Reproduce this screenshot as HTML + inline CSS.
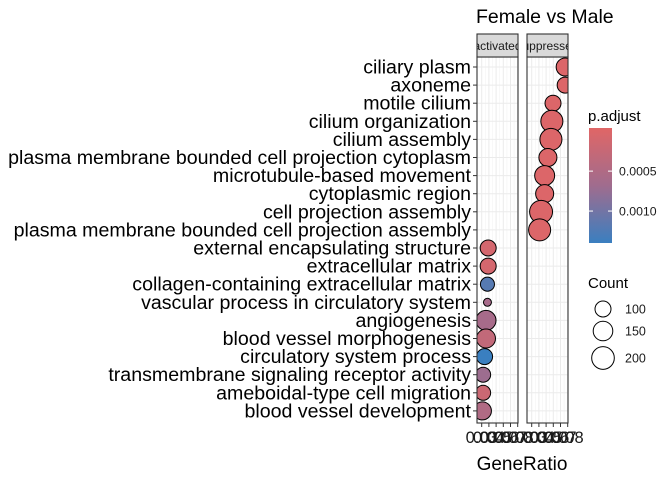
<!DOCTYPE html>
<html><head><meta charset="utf-8">
<style>
body{margin:0;background:#fff;}
svg text{font-family:"Liberation Sans",Arial,sans-serif;}
</style></head>
<body>
<svg id="c" width="672" height="480" xmlns="http://www.w3.org/2000/svg">
<defs>
<linearGradient id="grad" x1="0" y1="0" x2="0" y2="1">
<stop offset="0" stop-color="#E06666"/><stop offset="0.5" stop-color="#A06C8E"/><stop offset="1" stop-color="#3A7FC0"/>
</linearGradient>
<clipPath id="clipL"><rect x="477" y="57" width="41" height="366"/></clipPath>
<clipPath id="clipR"><rect x="527" y="57" width="41" height="366"/></clipPath>
<clipPath id="clipSL"><rect x="477" y="34" width="41" height="23"/></clipPath>
<clipPath id="clipSR"><rect x="527" y="34" width="41" height="23"/></clipPath>
</defs>
</svg>
<script>
const terms=["ciliary plasm","axoneme","motile cilium","cilium organization","cilium assembly","plasma membrane bounded cell projection cytoplasm","microtubule-based movement","cytoplasmic region","cell projection assembly","plasma membrane bounded cell projection assembly","external encapsulating structure","extracellular matrix","collagen-containing extracellular matrix","vascular process in circulatory system","angiogenesis","blood vessel morphogenesis","circulatory system process","transmembrane signaling receptor activity","ameboidal-type cell migration","blood vessel development"];
const panel=["suppressed","suppressed","suppressed","suppressed","suppressed","suppressed","suppressed","suppressed","suppressed","suppressed","activated","activated","activated","activated","activated","activated","activated","activated","activated","activated"];
const geneRatio=[0.0765,0.0765,0.0596,0.058,0.0567,0.0525,0.048,0.048,0.043,0.041,0.039,0.039,0.038,0.038,0.036,0.036,0.034,0.032,0.032,0.031];
const counts=[127,100,100,190,190,127,156,127,206,190,100,100,77,25,156,140,100,88,88,127];
const padj=[0.00001,0.00001,0.00001,0.00001,0.00001,0.00001,0.00001,0.00001,0.00001,0.00001,0.0001,0.0001,0.0012,0.0006,0.0006,0.0003,0.0014,0.0007,0.0002,0.0005];
const xTicks=[0.03,0.04,0.05,0.06,0.07,0.08];
const xTickLabels=["0.03","0.04","0.05","0.06","0.07","0.08"];
const legendCounts=[100,150,200];
const colorTicks=[0.0005,0.0010];
const colorTickLabels=["0.0005","0.0010"];

const svg=document.getElementById('c');
const NS="http://www.w3.org/2000/svg";
function mk(t,a,p){const e=document.createElementNS(NS,t);for(const k in a)e.setAttribute(k,a[k]);(p||svg).appendChild(e);return e;}
const panels={activated:{x0:477},suppressed:{x0:527}};
const PW=41,PT=57,PB=423;
function xs(v,x0){return x0+4.7+(v-0.03)*720;}
function ys(i){return 67+i*18.1;}
function rs(c){return 0.8*Math.sqrt(c);}
const pMin=-0.00004,pMax=0.0014;
function cs(p){let t=(p-pMin)/(pMax-pMin);t=Math.max(0,Math.min(1,t));
 const a=[224,102,102],m=[160,108,142],b=[58,127,192];let c;
 if(t<0.5){const u=t/0.5;c=a.map((v,k)=>Math.round(v+(m[k]-v)*u));}else{const u=(t-0.5)/0.5;c=m.map((v,k)=>Math.round(v+(b[k]-v)*u));}
 return `rgb(${c.join(',')})`;}
function cy(p){return 128+(p-pMin)/(pMax-pMin)*115;}

const title=mk('text',{x:476,y:23,'font-size':19.5,fill:'#000'});title.textContent="Female vs Male";



for(const key of ["activated","suppressed"]){
 const x0=panels[key].x0;
 const g=mk('g',{});
 
 
 mk('rect',{x:x0,y:PT,width:PW,height:PB-PT,fill:'#fff'},g);
 for(let k=0;k<xTicks.length;k++){
  const x=xs(xTicks[k],x0);
  mk('line',{x1:x,x2:x,y1:PT,y2:PB,stroke:'#ebebeb','stroke-width':1},g);
  if(k<xTicks.length-1){const xm=xs((xTicks[k]+xTicks[k+1])/2,x0);mk('line',{x1:xm,x2:xm,y1:PT,y2:PB,stroke:'#f3f3f3','stroke-width':0.6},g);}
 }
 for(let i=0;i<terms.length;i++){mk('line',{x1:x0,x2:x0+PW,y1:ys(i),y2:ys(i),stroke:'#ebebeb','stroke-width':1},g);}
 const dg=mk('g',{'clip-path':key==="activated"?'url(#clipL)':'url(#clipR)'},g);
 for(let i=0;i<terms.length;i++){if(panel[i]!==key)continue;
  const c=mk('circle',{cx:xs(geneRatio[i],x0),cy:ys(i),r:rs(counts[i]),fill:cs(padj[i]),stroke:'#000','stroke-width':1},dg);
  
  
 }
 mk('rect',{x:x0,y:PT,width:PW,height:PB-PT,fill:'none',stroke:'#333','stroke-width':1.1},g);
 const s=mk('rect',{x:x0,y:34,width:PW,height:23,fill:'#d9d9d9',stroke:'#333','stroke-width':1.1},g);
 
 
 const st=mk('text',{x:x0+PW/2,y:50,'font-size':12,'text-anchor':'middle',fill:'#1a1a1a','clip-path':key==="activated"?'url(#clipSL)':'url(#clipSR)'},g);
 st.textContent=key;
 for(let k=0;k<xTicks.length;k++){const x=xs(xTicks[k],x0);
  mk('line',{x1:x,x2:x,y1:PB,y2:PB+4,stroke:'#333'},g);
  const t=mk('text',{x:x,y:443,'font-size':16.5,'text-anchor':'middle',fill:'#1a1a1a'},g);t.textContent=xTickLabels[k];
  
  
 }
}

for(let i=0;i<terms.length;i++){
 mk('line',{x1:473,x2:477,y1:ys(i),y2:ys(i),stroke:'#333'});
 const t=mk('text',{x:471,y:ys(i)+6.5,'font-size':19.6,'text-anchor':'end',fill:'#000'});t.textContent=terms[i];
 
 
}
const xt=mk('text',{x:522,y:470,'font-size':19,'text-anchor':'middle',fill:'#000'});xt.textContent="GeneRatio";



const lt=mk('text',{x:588,y:121,'font-size':15,fill:'#000'});lt.textContent="p.adjust";


const cb=mk('rect',{x:589,y:128,width:23,height:115,fill:'url(#grad)'});


for(let k=0;k<colorTicks.length;k++){const y=cy(colorTicks[k]);
 mk('line',{x1:589,x2:593,y1:y,y2:y,stroke:'#fff'});mk('line',{x1:608,x2:612,y1:y,y2:y,stroke:'#fff'});
 const t=mk('text',{x:619,y:y+4.5,'font-size':12.3,fill:'#1a1a1a'});t.textContent=colorTickLabels[k];
 
 
}
const ct=mk('text',{x:588,y:288,'font-size':15,fill:'#000'});ct.textContent="Count";


const ly=[309,331,358];
for(let k=0;k<legendCounts.length;k++){
 const c=mk('circle',{cx:603,cy:ly[k],r:rs(legendCounts[k]),fill:'none',stroke:'#000','stroke-width':1});
 
 
 const t=mk('text',{x:625,y:ly[k]+4.5,'font-size':12.5,fill:'#1a1a1a'});t.textContent=legendCounts[k];
 
 
}
</script>
</body></html>
